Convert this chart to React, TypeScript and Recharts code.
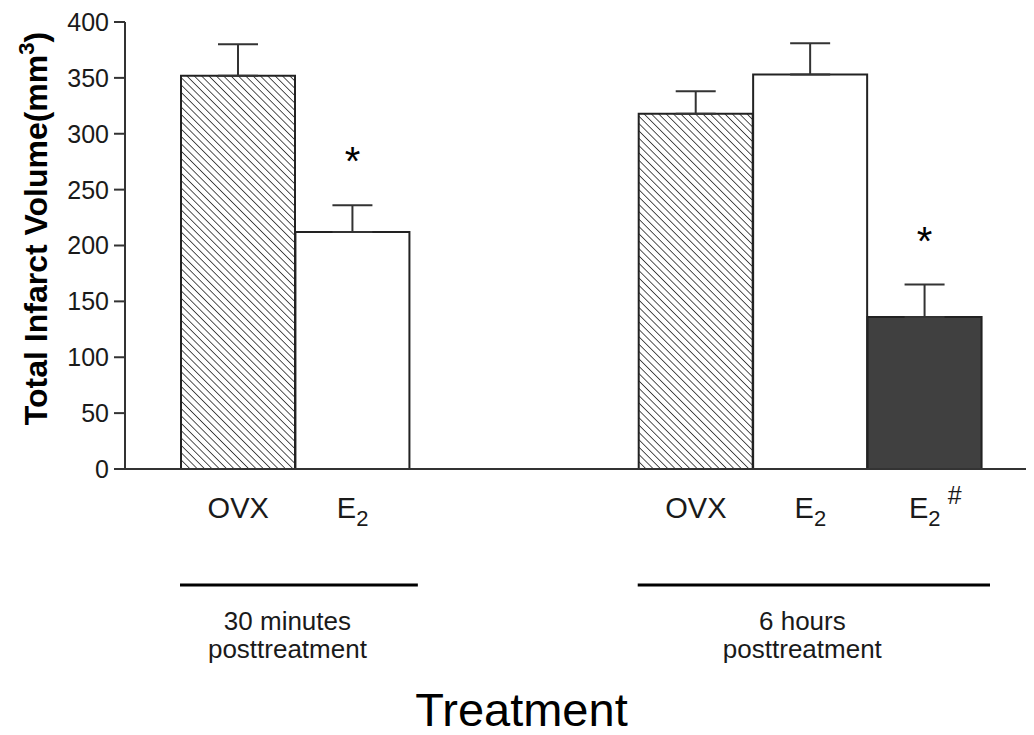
import React from 'react';
import { BarChart, Bar, XAxis, YAxis, ErrorBar, Cell, LabelList } from 'recharts';

// values (mean + upper SEM)
const groupTitles = [['30 minutes', 'posttreatment'], ['6 hours', 'posttreatment']];
const groupLabels = [['OVX', 'E2'], ['OVX', 'E2', 'E2#']];
const groupMeans = [[352, 212], [318, 353, 136]];
const groupErrors = [[28, 24], [20, 28, 29]];
const groupStars = [[false, true], [false, false, true]];
const yTicks = [0, 50, 100, 150, 200, 250, 300, 350, 400];

const W = 1026;
const H = 727;
const Y_AXIS_W = 117;
const PAD_L = 56;
const PAD_R = 52;
const GAP_SLOTS = 2;
const FONT = '"Liberation Sans", Arial, Helvetica, sans-serif';
const INK = '#1a1a1a';

type Row = {
  key: string;
  label: string;
  value: number | null;
  err: number[] | null;
  star: boolean;
  group: number;
  first: boolean;
};

const rows: Row[] = [];
groupLabels.forEach((labels, g) => {
  if (g > 0) {
    for (let s = 0; s < GAP_SLOTS; s++) {
      rows.push({ key: `gap-${g}-${s}`, label: '', value: null, err: null, star: false, group: -1, first: false });
    }
  }
  labels.forEach((label, i) => {
    rows.push({
      key: `${g}-${i}`,
      label,
      value: groupMeans[g][i],
      err: [0, groupErrors[g][i]],
      star: groupStars[g][i],
      group: g,
      first: i === 0,
    });
  });
});

const BAND = (W - Y_AXIS_W - PAD_L - PAD_R) / rows.length;

const fillFor = (label: string) => {
  if (label === 'OVX') return 'url(#hatch)';
  if (label === 'E2#') return '#404040';
  return '#ffffff';
};

const XTick = (props: any) => {
  const { x, y, payload } = props;
  const row = rows.find((r) => r.key === payload.value);
  if (!row || !row.label) return null;
  const isE = row.label.startsWith('E2');
  const sharp = row.label.endsWith('#');
  let group = null;
  if (row.first) {
    const n = groupLabels[row.group].length;
    const left = x - BAND / 2;
    const right = left + n * BAND;
    const mid = (left + right) / 2 - 8;
    group = (
      <g>
        <line x1={left - 1} x2={right + 8} y1={y + 116} y2={y + 116} stroke="#000" strokeWidth={3} />
        <text x={mid} y={y + 161} textAnchor="middle" fontSize={26} fontFamily={FONT} fill={INK}>
          {groupTitles[row.group][0]}
        </text>
        <text x={mid} y={y + 189} textAnchor="middle" fontSize={26} fontFamily={FONT} fill={INK}>
          {groupTitles[row.group][1]}
        </text>
      </g>
    );
  }
  return (
    <g>
      <text x={x} y={y + 49} textAnchor="middle" fontSize={29} fontFamily={FONT} fill={INK}>
        {isE ? (
          <>
            E<tspan dy={8} fontSize={22}>2</tspan>
          </>
        ) : (
          row.label
        )}
      </text>
      {sharp && (
        <text x={x + 23} y={y + 35} fontSize={25} fontFamily={FONT} fill={INK}>
          #
        </text>
      )}
      {group}
    </g>
  );
};

const Star = (props: any) => {
  const { x, y, width, height, value } = props;
  const row = rows.find((r) => r.value === value);
  if (!row || !row.star || !value || !row.err) return null;
  const capY = y - (row.err[1] * Math.abs(height)) / value;
  return (
    <text x={x + width / 2} y={capY - 30} textAnchor="middle" fontSize={40} fontFamily={FONT} fill="#000">
      *
    </text>
  );
};

const YLabel = (props: any) => {
  const vb = props.viewBox || { x: 0, y: 14, width: Y_AXIS_W, height: 447 };
  const cx = vb.x + 39;
  const cy = vb.y + vb.height / 2 - 17;
  return (
    <text
      x={cx}
      y={cy}
      transform={`rotate(-90, ${cx}, ${cy})`}
      textAnchor="middle"
      fontSize={32}
      fontWeight="bold"
      fontFamily={FONT}
      fill="#000"
    >
      Total Infarct Volume(mm<tspan dy={-13} fontSize={22}>3</tspan>
      <tspan dy={13}>)</tspan>
    </text>
  );
};

const XLabel = (props: any) => {
  const vb = props.viewBox;
  return (
    <text x={vb.x + vb.width / 2 - 58} y={vb.y + 257} textAnchor="middle" fontSize={47} fontFamily={FONT} fill="#000">
      Treatment
    </text>
  );
};

export default function App() {
  return (
    <div style={{ width: W, height: H, background: '#fff' }}>
      <BarChart width={W} height={H} data={rows} margin={{ top: 14, right: 0, bottom: 236, left: 0 }} barCategoryGap={0}>
        <defs>
          <pattern id="hatch" width="5.2" height="5.2" patternUnits="userSpaceOnUse" patternTransform="rotate(-45)">
            <rect width="5.2" height="5.2" fill="#ffffff" />
            <line x1="0" y1="0" x2="0" y2="5.2" stroke="#2a2a2a" strokeWidth={1.6} />
          </pattern>
        </defs>
        <XAxis
          dataKey="key"
          type="category"
          interval={0}
          height={30}
          padding={{ left: PAD_L, right: PAD_R }}
          tickLine={false}
          tickSize={0}
          tickMargin={0}
          axisLine={{ stroke: '#333', strokeWidth: 2 }}
          tick={<XTick />}
          label={{ content: <XLabel /> }}
        />
        <YAxis
          width={Y_AXIS_W}
          domain={[0, 400]}
          ticks={yTicks}
          interval={0}
          tickSize={11}
          tickMargin={5}
          axisLine={{ stroke: '#333', strokeWidth: 2 }}
          tickLine={{ stroke: '#333', strokeWidth: 2 }}
          tick={{ fontSize: 25, fontFamily: FONT, fill: INK }}
          label={{ content: <YLabel /> }}
        />
        <Bar dataKey="value" stroke="#222" strokeWidth={2} isAnimationActive={false}>
          {rows.map((r) => (
            <Cell key={r.key} fill={fillFor(r.label)} />
          ))}
          <ErrorBar dataKey="err" width={20} stroke="#333" strokeWidth={2} direction="y" />
          <LabelList dataKey="value" content={<Star />} />
        </Bar>
      </BarChart>
    </div>
  );
}
